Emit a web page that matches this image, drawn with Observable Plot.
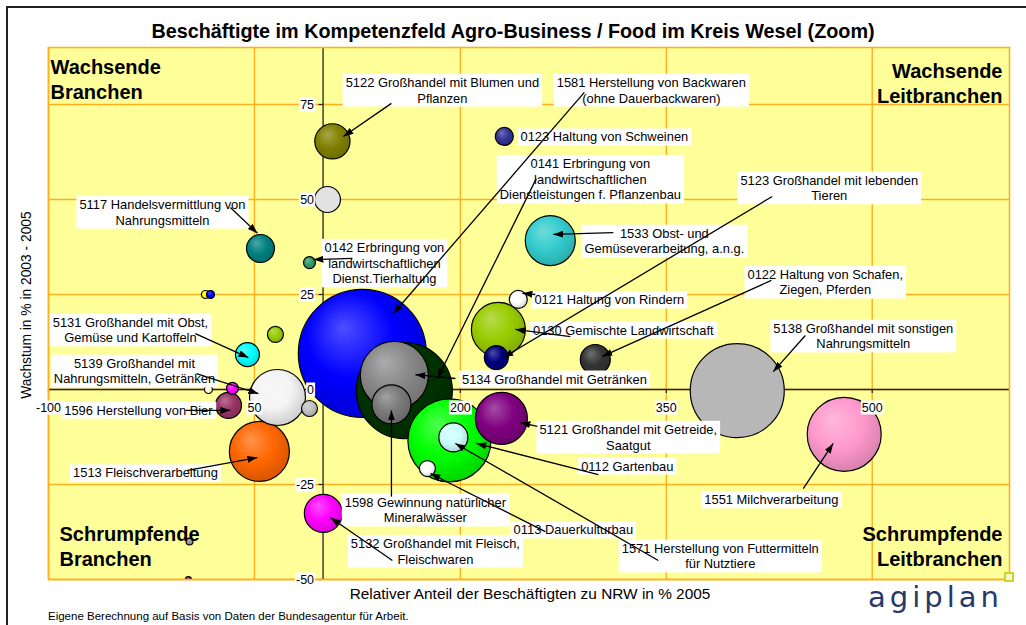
<!DOCTYPE html>
<html><head><meta charset="utf-8">
<script src="https://cdn.jsdelivr.net/npm/d3@7"></script>
<script src="https://cdn.jsdelivr.net/npm/@observablehq/plot@0.6"></script>
<style>
body{margin:0;background:#fff;font-family:"Liberation Sans",Arial,sans-serif;}
#wrap{position:relative;width:1026px;height:625px;overflow:hidden;background:#fff;}
#border{position:absolute;left:6px;top:6px;width:1100px;height:700px;border-left:2px solid #222;border-top:2px solid #222;}
#title{position:absolute;left:0;top:20px;width:1026px;text-align:center;font-weight:bold;font-size:19.8px;line-height:22px;color:#000;}
#chart{position:absolute;left:0;top:40px;}
#ylab{position:absolute;left:-123px;top:296px;width:300px;height:18px;line-height:18px;text-align:center;font-size:13.8px;transform:rotate(-90deg);}
#xlab{position:absolute;left:230px;top:585px;width:600px;text-align:center;font-size:15.4px;line-height:18px;}
#foot{position:absolute;left:48px;top:609px;font-size:11.5px;line-height:14px;}
#logo{position:absolute;left:868px;top:583px;font-family:"DejaVu Sans",Verdana,sans-serif;font-size:29px;line-height:29px;letter-spacing:4px;color:#27386b;}
#sq{position:absolute;left:1004px;top:572px;width:6px;height:6px;border:2px solid #c5d82a;background:#f4f8c8;}
</style></head><body>
<div id="wrap">
 <div id="border"></div>
 <div id="title">Beschäftigte im Kompetenzfeld Agro-Business / Food im Kreis Wesel (Zoom)</div>
 <div id="chart"></div>
 <div id="ylab">Wachstum in % in 2003 - 2005</div>
 <div id="xlab">Relativer Anteil der Beschäftigten zu NRW in % 2005</div>
 <div id="foot">Eigene Berechnung auf Basis von Daten der Bundesagentur für Arbeit.</div>
 <div id="logo">agiplan</div>
 <div id="sq"></div>
</div>
<svg width="0" height="0" style="position:absolute"><defs id="defs"></defs></svg>
<script>
// ---- data (bubbles, in drawing order) ----
const codes  = ["5138","0112","0141","1581","1598","5134","1571","0113","5121","1551","1513","5139","-","1596","-","-","5132","-","-","0130","5123","0121","0122","1533","5122","0123","-","5117","0142","-","-","5131","-"];
const relAnteil = [401.7,192,159.2,128.6,149.8,151.9,194.9,176,229.9,479.6,53.6,66.8,90.1,31.1,34,16.5,100.2,2.7,1.9,227.7,226.2,242.2,298.3,265.5,106.8,232,103.2,54.4,90.1,14.3,18,44.9,65.3];
const wachstum  = [-0.3,-13.4,-0.3,9.5,-3.9,3.7,-12.6,-20.8,-7.6,-11.8,-16.3,-2.1,-5,-4.2,0.3,0,-32.6,-40,-50,15.8,8.4,23.7,7.9,39.2,65.3,66.6,50,37.1,33.4,25,25,9.2,14.5];
const beschaeftigte = [2209,1722,2304,4096,380,1156,210,64,676,1369,900,784,64,169,36,16,361,12,9,729,144,81,225,625,310,81,169,196,36,16,16,144,64];
const colors = ["checkDark","#00ff00","#003300","#0000ff","#7a7a7a","#888888","#ccffff","#ffffff","#800080","#ff99cc","#ff6600","#f4f4f4","#c0c0c0","#993366","#ff00ff","#ffffcc","#ff00ff","#969696","#800080","#99cc00","#000080","#ffffff","#333333","#33cccc","#808000","#333399","checkLight","#008080","#339966","#ffff00","#0000ff","#00ffff","#99cc00"];

// ---- axis ticks ----
const xTicks = [-100, 50, 200, 350, 500];
const yTicks = [75, 50, 25, 0, -25, -50];

// ---- annotation labels ----
const labelTexts = [
 "5122 Großhandel mit Blumen und\nPflanzen",
 "1581 Herstellung von Backwaren\n(ohne Dauerbackwaren)",
 "0123 Haltung von Schweinen",
 "0141 Erbringung von\nlandwirtschaftlichen\nDienstleistungen f. Pflanzenbau",
 "5123 Großhandel mit lebenden\nTieren",
 "5117 Handelsvermittlung von\nNahrungsmitteln",
 "1533 Obst- und\nGemüseverarbeitung, a.n.g.",
 "0142 Erbringung von\nlandwirtschaftlichen\nDienst.Tierhaltung",
 "0122 Haltung von Schafen,\nZiegen, Pferden",
 "0121 Haltung von Rindern",
 "5131 Großhandel mit Obst,\nGemüse und Kartoffeln",
 "0130 Gemischte Landwirtschaft",
 "5138 Großhandel mit sonstigen\nNahrungsmitteln",
 "5139 Großhandel mit\nNahrungsmitteln, Getränken",
 "5134 Großhandel mit Getränken",
 "1596 Herstellung von Bier",
 "5121 Großhandel mit Getreide,\nSaatgut",
 "0112 Gartenbau",
 "1513 Fleischverarbeitung",
 "1551 Milchverarbeitung",
 "1598 Gewinnung natürlicher\nMineralwässer",
 "0113 Dauerkulturbau",
 "5132 Großhandel mit Fleisch,\nFleischwaren",
 "1571 Herstellung von Futtermitteln\nfür Nutztiere"
];
const labelX = [186.9,339.1,304.9,294.7,468.7,-17.0,348.6,144.7,465.8,308.5,-40.3,318.7,493.5,-37.4,268.5,-34.5,322.3,321.6,-29.4,426.5,174.5,282.3,181.8,389.3];
const labelY = [78.9,78.9,66.6,55.5,53.2,46.8,39.2,33.4,28.4,23.7,15.8,15.8,14.2,5.0,2.9,-5.3,-12.4,-20,-21.8,-28.9,-31.6,-36.8,-42.4,-43.7];
const arrowX1 = [149.8,290.3,null,255.3,427.2,32.5,311.4,121.4,426.5,254.6,7.0,280.1,451.3,7.8,196.4,-0.2,256.1,300.5,1.2,449.8,149.8,261.9,150.5,344.2];
const arrowY1 = [75.3,78.2,null,55.5,50.8,47.9,41.3,34.5,28.7,25.0,14.7,13.9,14.2,4.2,2.9,-5.5,-9.7,-22.4,-21.3,-26.1,-28.2,-37.4,-45,-45];
const arrowX2 = [114.8,151.2,null,183.3,231.3,52.2,267.7,93.0,303.4,245.2,45.6,240.1,427.9,52.9,167.2,32.5,243.7,211.7,52.2,471.6,149.8,178.2,105.3,196.4];
const arrowY2 = [66.6,20,null,2.9,8.4,41.1,40.8,34.2,8.7,25.3,8.4,15.8,4.7,-1.1,3.9,-5.5,-8.7,-14.2,-17.9,-14.2,-5.5,-22.1,-33.7,-14.2];

const quadrants = ["Wachsende\nBranchen","Wachsende\nLeitbranchen","Schrumpfende\nBranchen","Schrumpfende\nLeitbranchen"];

// ---- fills: gradients / patterns ----
const defs = d3.select("#defs");
colors.forEach((c, i) => {
  const id = "f" + i;
  if (c === "checkDark" || c === "checkLight") {
    const [a, b] = c === "checkDark" ? ["#e2e2e2", "#8c8c8c"] : ["#ffffff", "#c4c4c4"];
    const p = defs.append("pattern").attr("id", id).attr("width", 2).attr("height", 2).attr("patternUnits", "userSpaceOnUse");
    p.append("rect").attr("width", 2).attr("height", 2).attr("fill", a);
    p.append("rect").attr("width", 1).attr("height", 1).attr("fill", b);
    p.append("rect").attr("x", 1).attr("y", 1).attr("width", 1).attr("height", 1).attr("fill", b);
  } else {
    const g = defs.append("radialGradient").attr("id", id)
      .attr("cx", "0.45").attr("cy", "0.4").attr("r", "0.62").attr("fx", "0.35").attr("fy", "0.3");
    g.append("stop").attr("offset", "0%").attr("stop-color", d3.interpolateRgb(c, "#fff")(0.3));
    g.append("stop").attr("offset", "55%").attr("stop-color", c);
    g.append("stop").attr("offset", "100%").attr("stop-color", d3.color(c).darker(0.5).formatHex());
  }
});
const mk = defs.append("marker").attr("id", "ah").attr("viewBox", "0 0 10 10").attr("refX", 10).attr("refY", 5)
  .attr("markerWidth", 10).attr("markerHeight", 7).attr("markerUnits", "userSpaceOnUse")
  .attr("orient", "auto").attr("preserveAspectRatio", "none");
mk.append("path").attr("d", "M0,0L10,5L0,10z").attr("fill", "#000");

const bubbles = codes.map((c, i) => ({code: c, x: relAnteil[i], y: wachstum[i], size: beschaeftigte[i], fill: `url(#f${i})`}));
const labels = labelTexts.map((t, i) => ({text: t, x: labelX[i], y: labelY[i]}));
const arrows = labelTexts.map((t, i) => ({x1: arrowX1[i], y1: arrowY1[i], x2: arrowX2[i], y2: arrowY2[i]})).filter(d => d.x1 != null);

const grid = "#ffae1f";
const qStyle = {fontSize: 20, fontWeight: "bold", lineAnchor: "top", lineHeight: 1.27, text: d => d, fill: "#000"};

const plot = Plot.plot({
  width: 1026, height: 560,
  marginLeft: 48, marginRight: 17, marginTop: 7, marginBottom: 21,
  x: {domain: [-100, 600], axis: null},
  y: {domain: [-50, 90], axis: null},
  r: {type: "sqrt", domain: [0, 4096], range: [0, 64]},
  color: {type: "identity"},
  style: {fontFamily: "Liberation Sans, Arial, sans-serif", fontSize: "12.5px", background: "transparent", overflow: "visible", color: "#000"},
  marks: [
    Plot.frame({fill: "#ffff99", stroke: "none"}),
    Plot.ruleX(xTicks, {stroke: grid, strokeWidth: 1.4}),
    Plot.ruleY(yTicks, {stroke: grid, strokeWidth: 1.4}),
    Plot.ruleX([100], {stroke: "#222", strokeWidth: 1.3}),
    Plot.ruleY([0], {stroke: "#222", strokeWidth: 1.3}),
    Plot.ruleX(xTicks, {x: d => d, y1: 0, y2: 0, insetBottom: -4, stroke: "#222", strokeWidth: 1.2}),
    Plot.ruleY(yTicks, {y: d => d, x1: 100, x2: 100, insetLeft: -4, stroke: "#222", strokeWidth: 1.2}),
    Plot.dot(bubbles, {x: "x", y: "y", r: "size", fill: "fill", stroke: "#000", strokeWidth: 1.2, clip: true}),
    Plot.frame({stroke: grid, strokeWidth: 1.6}),
    Plot.text(xTicks, {x: d => d, y: 0, dy: 18, text: d => String(d), fill: "#000", fontSize: 12.5}),
    Plot.text(yTicks, {x: 100, y: d => d, dx: -9, textAnchor: "end", text: d => String(d), fill: "#000", fontSize: 12.5}),
    Plot.text(labels, {x: "x", y: "y", text: "text", lineHeight: 1.22, fontSize: 12.9, fill: "#000"}),
    Plot.link(arrows, {x1: "x1", y1: "y1", x2: "x2", y2: "y2", stroke: "#000", strokeWidth: 1.3}),
    Plot.text([quadrants[0]], {...qStyle, frameAnchor: "top-left", textAnchor: "start", dx: 2, dy: 8}),
    Plot.text([quadrants[1]], {...qStyle, frameAnchor: "top-right", textAnchor: "end", dx: -7, dy: 12}),
    Plot.text([quadrants[2]], {...qStyle, frameAnchor: "bottom-left", textAnchor: "start", dx: 11, dy: -57}),
    Plot.text([quadrants[3]], {...qStyle, frameAnchor: "bottom-right", textAnchor: "end", dx: -7, dy: -57})
  ]
});
document.getElementById("chart").append(plot);

// white boxes behind tick labels and annotation labels
const textGroups = plot.querySelectorAll('g[aria-label="text"]');
[[0, 1, 0], [1, 1, 0], [2, 3, 1]].forEach(([k, px, py]) => {
  const g = textGroups[k];
  if (!g) return;
  const texts = Array.from(g.querySelectorAll("text"));
  const first = g.firstChild;
  texts.forEach(t => {
    const b = t.getBBox();
    const r = document.createElementNS("http://www.w3.org/2000/svg", "rect");
    r.setAttribute("x", b.x - px);
    r.setAttribute("y", b.y - py);
    r.setAttribute("width", b.width + 2 * px);
    r.setAttribute("height", b.height + 2 * py);
    r.setAttribute("fill", "#fff");
    r.setAttribute("stroke", "none");
    if (t.getAttribute("transform")) r.setAttribute("transform", t.getAttribute("transform"));
    g.insertBefore(r, first);
  });
});
plot.querySelectorAll('g[aria-label="link"] path, g[aria-label="link"] line').forEach(p => p.setAttribute("marker-end", "url(#ah)"));
</script>
</body></html>
